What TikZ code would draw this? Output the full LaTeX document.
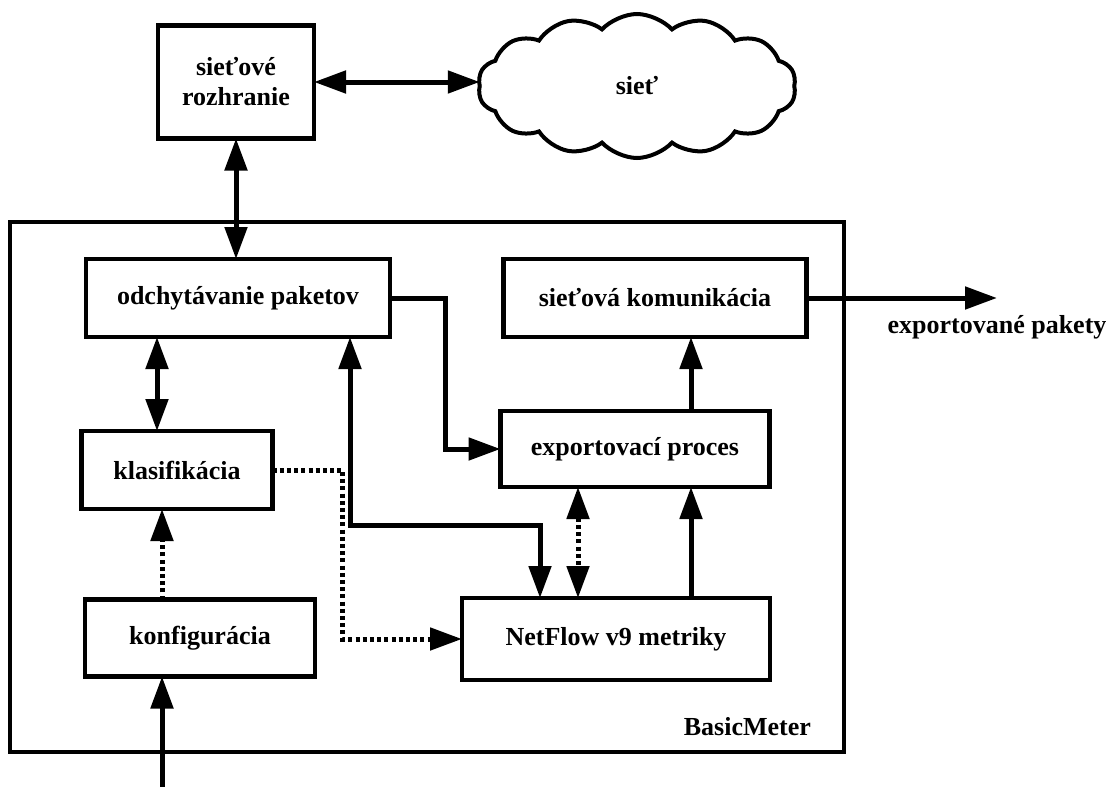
\documentclass[tikz,border=0pt]{standalone}
\usepackage{fontspec}
\setmainfont{Liberation Serif}
\usetikzlibrary{arrows.meta,shapes.symbols}

\begin{document}
\begin{tikzpicture}[x=0.5pt, y=-0.5pt,
  every node/.style={font=\fontsize{13}{15}\selectfont\bfseries},
  box/.style={draw, line width=2.2pt, align=center, outer sep=0pt},
  link/.style={line width=2.5pt, -{Triangle[length=16pt,width=11pt]}},
  dvoj/.style={line width=2.5pt, {Triangle[length=16pt,width=11pt]}-{Triangle[length=16pt,width=11pt]}},
  bodky/.style={dash pattern=on 2pt off 1.6pt}]
\useasboundingbox (0,0) rectangle (1116,787);

% ramec BasicMeter
\draw[line width=2pt] (10,222) rectangle (844,752);
\node[anchor=east] (meter) at (818,727) {BasicMeter};

\foreach \n/\x/\y/\w/\h/\t in {
roz/236/82/78pt/56.5pt/sieťové\\rozhranie,
odch/238/298/152pt/39pt/odchytávanie paketov,
kom/655/298/151.5pt/39pt/sieťová komunikácia,
exp/635/449/134.5pt/38pt/exportovací proces,
klas/177/470/95.5pt/39pt/klasifikácia,
konf/200/638/115pt/38.5pt/konfigurácia,
nf/616/639/154pt/41pt/NetFlow v9 metriky}
\node[box, minimum width=\w, minimum height=\h] (\n) at (\x,\y) {\t};

\node[cloud, draw, line width=2pt, outer sep=0pt, cloud puffs=14, cloud puff arc=95,
  cloud ignores aspect, minimum width=159pt, minimum height=72pt] (siet) at (637,86) {sieť};

\coordinate (vstup) at (162,787);
\coordinate (von) at (997,298);

\draw[dvoj] (roz.east) -- (roz.east -| siet.west);
\draw[dvoj] (roz.south) -- (roz.south |- odch.north);
\draw[link] (odch.east) -- ++(55,0) |- (exp.west);
\draw[dvoj] ([xshift=-10pt]klas.north) -- ([xshift=-10pt]klas.north |- odch.south);
\draw[link, bodky] (vstup |- konf.north) -- (vstup |- klas.south);
\draw[link] (vstup) -- (vstup |- konf.south);
\draw[link, bodky] (klas.east) -- ++(70,0) |- (nf.west);
\draw[dvoj] ([xshift=56pt]odch.south) -- ++(0,188) -| ([xshift=-38pt]nf.north);
\draw[dvoj, bodky] ([xshift=-28.5pt]exp.south) -- ([xshift=-28.5pt]exp.south |- nf.north);
\draw[link] ([xshift=37.5pt]nf.north) -- ([xshift=37.5pt]nf.north |- exp.south);
\draw[link] ([xshift=28pt]exp.north) -- ([xshift=28pt]exp.north |- kom.south);
\draw[link] (kom.east) -- (von);
\node (pak) at (997,327) {exportované pakety};

\end{tikzpicture}
\end{document}
